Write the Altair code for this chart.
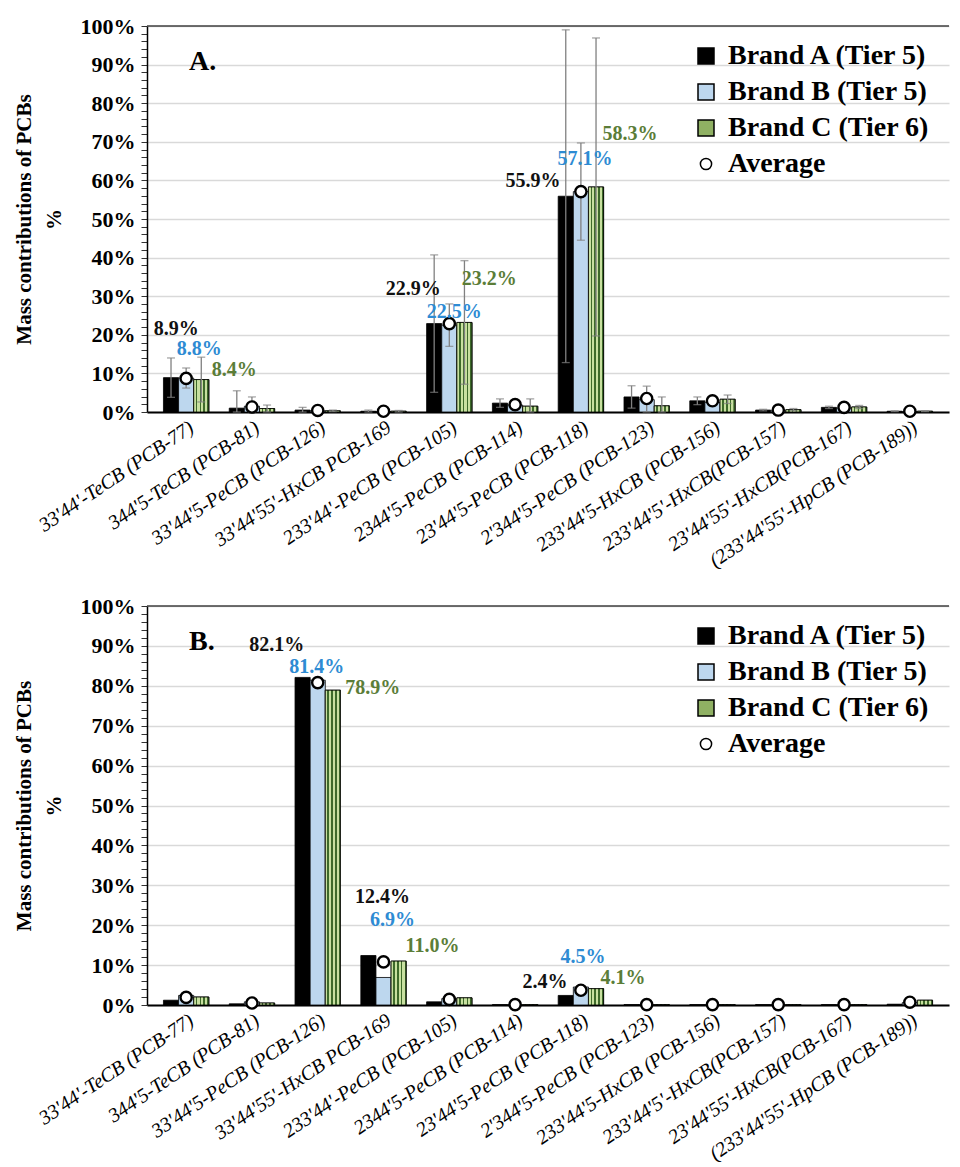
import altair as alt
import pandas as pd

categories = [
    "33'44'-TeCB (PCB-77)", "344'5-TeCB (PCB-81)", "33'44'5-PeCB (PCB-126)",
    "33'44'55'-HxCB PCB-169", "233'44'-PeCB (PCB-105)", "2344'5-PeCB (PCB-114)",
    "23'44'5-PeCB (PCB-118)", "2'344'5-PeCB (PCB-123)", "233'44'5-HxCB (PCB-156)",
    "233'44'5'-HxCB(PCB-157)", "23'44'55'-HxCB(PCB-167)", "(233'44'55'-HpCB (PCB-189))",
]
brands = ["Brand A (Tier 5)", "Brand B (Tier 5)", "Brand C (Tier 6)"]
average_name = "Average"

# Panel A values (%)
a_brand_a = [8.9, 1.0, 0.5, 0.2, 22.9, 2.3, 55.9, 3.9, 2.9, 0.5, 1.2, 0.2]
a_brand_b = [8.8, 1.5, 0.3, 0.1, 22.5, 1.8, 57.1, 3.2, 2.5, 0.3, 1.0, 0.1]
a_brand_c = [8.4, 0.9, 0.3, 0.2, 23.2, 1.5, 58.3, 1.6, 3.3, 0.6, 1.3, 0.2]
a_average = [8.7, 1.3, 0.4, 0.2, 22.9, 1.9, 57.1, 3.5, 2.9, 0.5, 1.2, 0.2]
# Panel A standard deviations (%)
a_sd_a = [5.1, 4.5, 0.7, 0.3, 17.8, 1.1, 43.1, 2.9, 1.0, 0.2, 0.3, 0.1]
a_sd_b = [2.6, 2.4, 0.3, 0.2, 5.5, 1.2, 12.6, 3.5, 0.9, 0.2, 0.3, 0.1]
a_sd_c = [5.8, 0.9, 0.2, 0.2, 16.0, 1.9, 38.6, 2.3, 1.1, 0.3, 0.4, 0.1]

# Panel B values (%)
b_brand_a = [1.2, 0.3, 82.1, 12.4, 0.8, 0.1, 2.4, 0.1, 0.1, 0.1, 0.1, 0.2]
b_brand_b = [2.4, 0.8, 81.4, 6.9, 1.6, 0.1, 4.5, 0.1, 0.1, 0.1, 0.1, 0.6]
b_brand_c = [2.0, 0.5, 78.9, 11.0, 1.8, 0.1, 4.1, 0.1, 0.1, 0.1, 0.1, 1.2]
b_average = [1.9, 0.5, 80.8, 10.8, 1.4, 0.1, 3.7, 0.1, 0.1, 0.1, 0.1, 0.7]

# value annotations: (category index, series index, text, height in %, shift px)
a_labels = [
    (0, 0, "8.9%", 21.5, -10), (0, 1, "8.8%", 16.3, 13), (0, 2, "8.4%", 10.9, 48),
    (4, 0, "22.9%", 31.9, -36), (4, 1, "22.5%", 25.9, 5), (4, 2, "23.2%", 34.5, 40),
    (6, 0, "55.9%", 59.8, -48), (6, 1, "57.1%", 65.5, 4), (6, 2, "58.3%", 72.0, 49),
]
b_labels = [
    (2, 0, "82.1%", 90.2, -41), (2, 1, "81.4%", 84.7, -1), (2, 2, "78.9%", 79.4, 55),
    (3, 0, "12.4%", 27.0, -1), (3, 1, "6.9%", 21.3, 9), (3, 2, "11.0%", 14.8, 49),
    (6, 0, "2.4%", 5.8, -36), (6, 1, "4.5%", 12.0, 2), (6, 2, "4.1%", 6.8, 42),
]

SERIF = "Liberation Serif"
CIRCLE = "M-0.7,0A0.7,0.7 0 1,0 0.7,0A0.7,0.7 0 1,0 -0.7,0Z"
LABEL_COLORS = ["#111111", "#2e8bd3", "#5b7d38"]
FILLS = ["#000000", "#bdd7ee", "#8fb063", "#ffffff"]
W = 802
Y_TITLE = ["Mass contributions of PCBs", "%"]

stops = []
n = 4
for k in range(n):
    s = k / n
    stops += [
        alt.GradientStop(color="#c8e0a0", offset=s),
        alt.GradientStop(color="#c8e0a0", offset=s + 0.55 / n),
        alt.GradientStop(color="#3e6a2a", offset=s + 0.56 / n),
        alt.GradientStop(color="#3e6a2a", offset=s + 0.99 / n),
    ]
stops.append(alt.GradientStop(color="#c8e0a0", offset=1))
hatch = alt.LinearGradient(gradient="linear", stops=stops, x1=0, x2=1, y1=0, y2=0)

XAXIS = alt.Axis(labelAngle=-34, labelFont=SERIF, labelFontStyle="italic",
                 labelFontSize=20, labelColor="black", ticks=False,
                 domainColor="black", domainWidth=2, labelPadding=5,
                 labelAlign="right", labelBaseline="top", labelLimit=0)
YAXIS = alt.Axis(values=list(range(0, 101, 2)),
                 labelExpr="datum.value % 10 === 0 ? datum.value + '%' : ''",
                 labelOverlap=False, grid=True,
                 gridOpacity={"condition": {"test": "datum.value % 10 === 0", "value": 1}, "value": 0},
                 gridColor="#d9d9d9", gridWidth=1.5, tickSize=6, tickColor="#333333",
                 tickWidth=1, domainColor="black", domainWidth=1.5,
                 labelFont=SERIF, labelFontWeight="bold", labelFontSize=22,
                 labelColor="black", labelPadding=6,
                 titleFont=SERIF, titleFontWeight="bold", titleFontSize=21,
                 titleColor="black", titlePadding=16, titleLineHeight=30)
XSCALE = alt.Scale(paddingInner=0.31, paddingOuter=0.25)
YSCALE = alt.Scale(domain=[0, 100], nice=False)


def X():
    return alt.X("cat:N", sort=categories, title=None, scale=XSCALE, axis=XAXIS)


def Y(field):
    return alt.Y(field, scale=YSCALE, title=Y_TITLE, axis=YAXIS)


def build_panel(vals, sds, avg, labels, letter, h):
    rows = []
    for bi, b in enumerate(brands):
        for ci, c in enumerate(categories):
            v = vals[bi][ci]
            r = {"cat": c, "series": b, "value": v}
            if sds is not None:
                s = sds[bi][ci]
                r["lo"] = max(0.0, v - s)
                r["hi"] = v + s
            rows.append(r)
    bars_df = pd.DataFrame(rows)
    avg_df = pd.DataFrame({"cat": categories, "series": [average_name] * len(categories), "value": avg})
    domain = brands + [average_name]

    xoff = alt.XOffset("series:N", sort=brands, scale=alt.Scale(domain=brands))
    leg = alt.Legend(title=None, orient="none", legendX=545, legendY=16,
                     labelFont=SERIF, labelFontWeight="bold", labelFontSize=28,
                     labelColor="black", labelLimit=0, symbolSize=256, symbolStrokeColor="black",
                     symbolStrokeWidth=1.5, rowPadding=8, labelOffset=8)
    color = alt.Color("series:N", scale=alt.Scale(domain=domain, range=FILLS), legend=leg)
    shape = alt.Shape("series:N", scale=alt.Scale(domain=domain, range=["square"] * 3 + [CIRCLE]), legend=leg)

    layers = []
    layers.append(alt.Chart(bars_df).mark_bar(stroke="black", strokeWidth=0.8).encode(
        x=X(), y=Y("value:Q"), xOffset=xoff, color=color))
    layers.append(alt.Chart(pd.DataFrame({"value": [100]})).mark_rule(color="#404040", strokeWidth=1.5).encode(
        y=Y("value:Q")))
    layers.append(alt.Chart(bars_df).transform_filter(alt.datum.series == brands[2]).mark_bar(
        fill=hatch, stroke="black", strokeWidth=0.8).encode(x=X(), y=Y("value:Q"), xOffset=xoff))
    if sds is not None:
        layers.append(alt.Chart(bars_df).mark_rule(color="#808080", strokeWidth=1.3).encode(
            x=X(), y=Y("lo:Q"), y2="hi:Q", xOffset=xoff))
        layers.append(alt.Chart(bars_df).mark_tick(color="#808080", thickness=1.3, size=8).encode(
            x=X(), y=Y("hi:Q"), xOffset=xoff))
        layers.append(alt.Chart(bars_df).mark_tick(color="#808080", thickness=1.3, size=8).encode(
            x=X(), y=Y("lo:Q"), xOffset=xoff))
    layers.append(alt.Chart(avg_df).mark_point(filled=True, stroke="black", strokeWidth=2.4,
                                               size=256, opacity=1).encode(
        x=X(), y=Y("value:Q"), color=color, shape=shape))
    for ci, si, txt, hy, dx in labels:
        ldf = pd.DataFrame({"cat": [categories[ci]], "value": [hy], "text": [txt]})
        layers.append(alt.Chart(ldf).mark_text(font=SERIF, fontSize=20, fontWeight="bold",
                                                color=LABEL_COLORS[si], dx=dx, baseline="middle").encode(
            x=X(), y=Y("value:Q"), text="text:N"))
    layers.append(alt.Chart(pd.DataFrame({"t": [letter]})).mark_text(
        font=SERIF, fontSize=28, fontWeight="bold", align="left", baseline="middle", color="black").encode(
        x=alt.value(42), y=alt.value(36), text="t:N"))
    return alt.layer(*layers).properties(width=W, height=h)


panel_a = build_panel([a_brand_a, a_brand_b, a_brand_c], [a_sd_a, a_sd_b, a_sd_c], a_average, a_labels, "A.", 386)
panel_b = build_panel([b_brand_a, b_brand_b, b_brand_c], None, b_average, b_labels, "B.", 399)

chart = alt.vconcat(panel_a, panel_b, spacing=24).resolve_scale(
    color="independent", shape="independent"
).properties(padding={"left": 5, "top": 7, "right": 0, "bottom": 0}).configure_view(stroke=None)

chart.save("out.html", embed_options={"renderer": "svg", "actions": False})
